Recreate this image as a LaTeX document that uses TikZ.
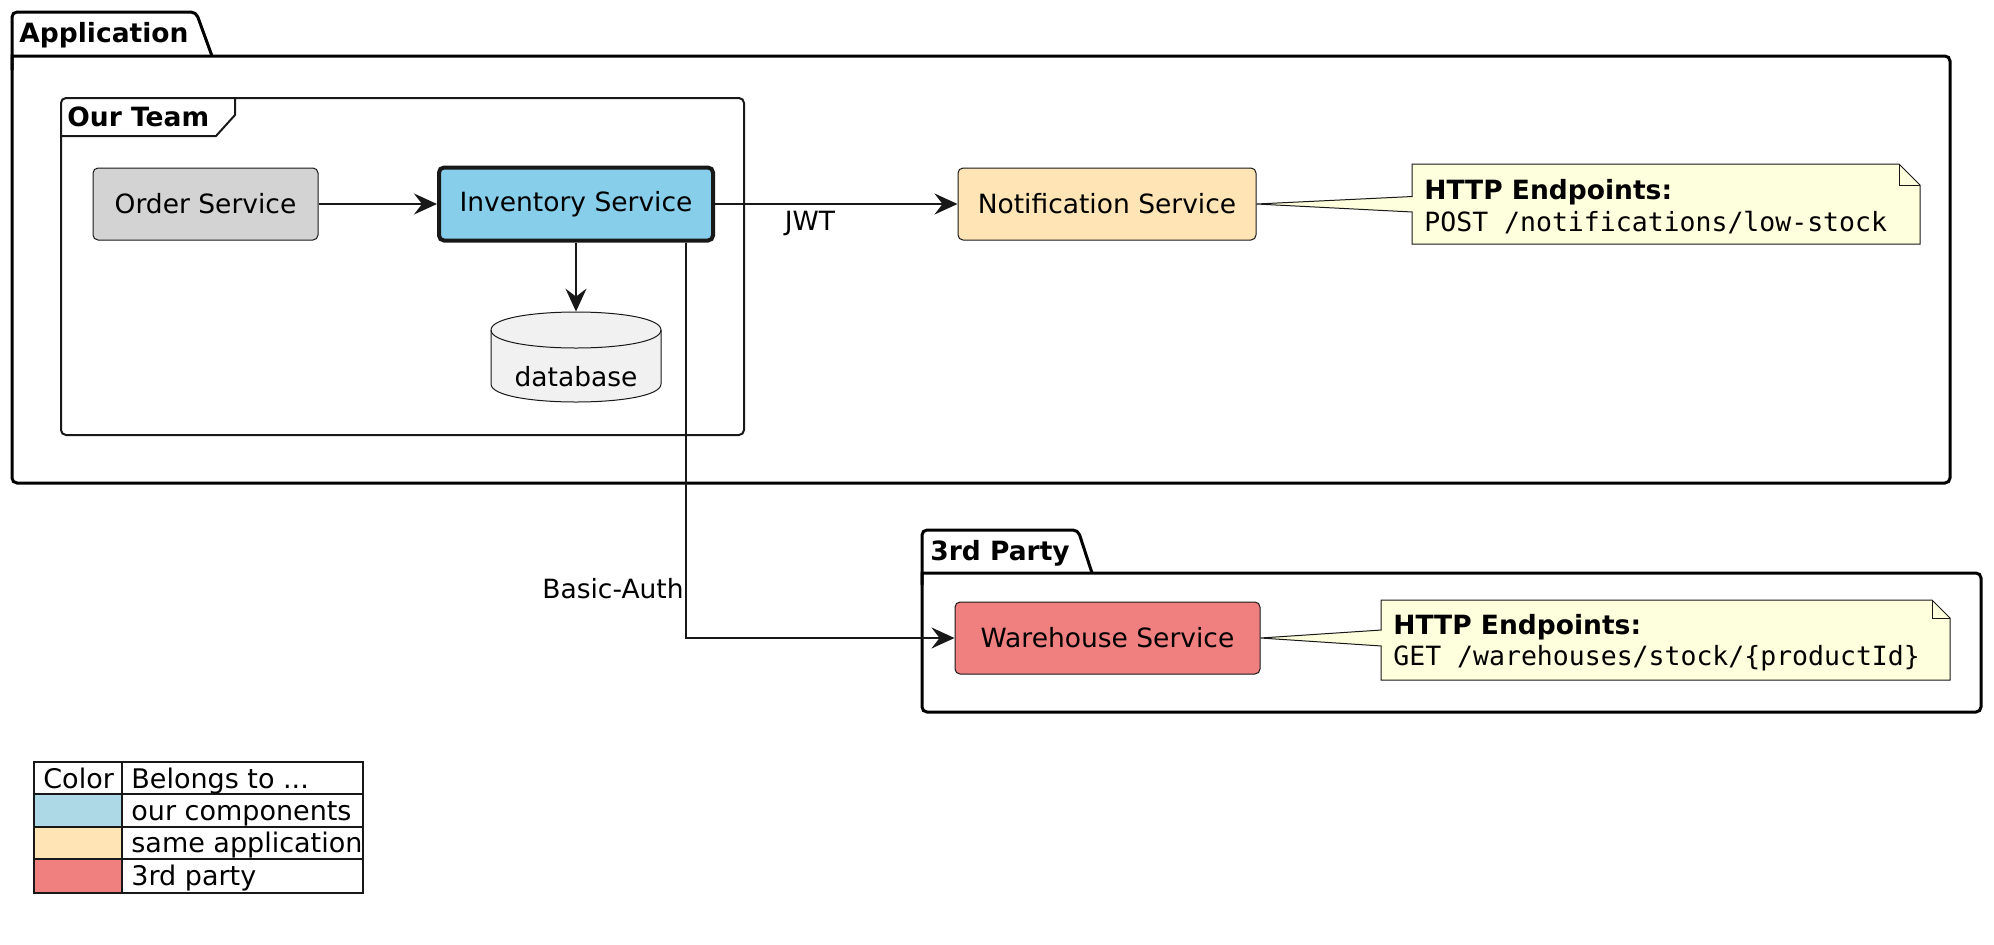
\documentclass[tikz,border=0pt]{standalone}
\usepackage{fontspec}
\setmainfont{DejaVu Sans}
\newfontfamily\monofnt{DejaVu Sans Mono}
\usetikzlibrary{arrows.meta}
\definecolor{linec}{HTML}{181818}
\definecolor{ordgray}{HTML}{D3D3D3}
\definecolor{invblue}{HTML}{87CEEB}
\definecolor{appcol}{HTML}{FFE4B5}
\definecolor{thirdcol}{HTML}{F08080}
\definecolor{legblue}{HTML}{ADD8E6}
\definecolor{notefill}{HTML}{FEFFDD}
\definecolor{dbfill}{HTML}{F1F1F1}
\newcommand\compfnt{\fontsize{13.25pt}{16pt}\selectfont}
\newcommand\legfnt{\fontsize{13.5pt}{16pt}\selectfont}
\begin{document}
\begin{tikzpicture}[x=0.5pt,y=-0.5pt,
  comp/.style={draw=linec, line width=0.5pt, rounded corners=2.5pt, inner sep=0pt, font=\compfnt, text=black},
  pkgline/.style={draw=black, line width=1.5pt},
  frameline/.style={draw=linec, line width=1pt},
  pkgtitle/.style={font=\compfnt\bfseries, inner sep=0pt},
  lbl/.style={font=\compfnt, inner sep=0pt},
  arr/.style={draw=linec, line width=1pt, -{Stealth[length=11.5pt,width=10.5pt,inset=4pt]}},
  noteline/.style={draw=linec, line width=0.5pt},
  notetxt/.style={inner sep=0pt, anchor=base west},
  legtxt/.style={font=\legfnt, inner sep=0pt, anchor=base west},
  legline/.style={draw=linec, line width=1pt}
]
\useasboundingbox (0,0) rectangle (1994,944);

% ---------- Application package ----------
\draw[pkgline, rounded corners=2.5pt, line cap=rect] (12,56) -- (1950,56) -- (1950,483) -- (12,483) -- (12,56);
\draw[pkgline, rounded corners=2.5pt] (12,70) -- (12,12) -- (196,12) -- (212,56);
\node[pkgtitle, anchor=base west] (tapp) at (19,42) {Application};

% ---------- Our Team frame ----------
\draw[frameline, rounded corners=2.5pt] (61,98) rectangle (744,435);
\draw[frameline] (61,136) -- (216,136) -- (235,115) -- (235,98);
\node[pkgtitle, anchor=base west] (tteam) at (67,126) {Our Team};

% ---------- 3rd Party package ----------
\draw[pkgline, rounded corners=2.5pt, line cap=rect] (922,573) -- (1981,573) -- (1981,712) -- (922,712) -- (922,573);
\draw[pkgline, rounded corners=2.5pt] (922,585) -- (922,530) -- (1078,530) -- (1092,573);
\node[pkgtitle, anchor=base west] (t3rd) at (930,560) {3rd Party};

% ---------- components ----------
\node[comp, fill=ordgray, minimum width=112.5pt, minimum height=36pt] (ord) at (205.5,204) {Order Service};
\node[comp, fill=invblue, line width=2pt, minimum width=137pt, minimum height=36.5pt] (inv) at (576,204) {Inventory Service};
\node[comp, fill=appcol, minimum width=149pt, minimum height=36pt] (notif) at (1107,204) {Notification Service};
\node[comp, fill=thirdcol, minimum width=152.5pt, minimum height=36pt] (wh) at (1107.5,638) {Warehouse Service};

% ---------- database ----------
\node[inner sep=0pt, minimum width=84.5pt, minimum height=45pt] (db) at (576,357) {};
\draw[fill=dbfill, draw=linec, line width=0.5pt]
  (491,330) -- (491,384) .. controls (491,408) and (661,408) .. (661,384)
  -- (661,330) .. controls (661,306) and (491,306) .. (491,330) -- cycle;
\draw[draw=linec, line width=0.5pt] (491,330) .. controls (491,354) and (661,354) .. (661,330);
\node[lbl, anchor=base] (dbt) at (576,386) {database};

% ---------- connectors ----------
\draw[arr] (ord.east) -- (inv.west);
\draw[arr] (inv.south) -- (db.north);
\draw[arr] (inv.east) -- (notif.west);
\node[lbl, anchor=base] (ljwt) at (810,230) {JWT};
\coordinate (bend) at (686,638);
\draw[arr] (inv.south -| bend) |- (wh.west);
\node[lbl, anchor=base east] (lba) at (684,598) {Basic-Auth};

% ---------- note 1 ----------
\filldraw[fill=notefill, noteline] (1412,164) -- (1899,164) -- (1920,185) -- (1920,244) -- (1412,244) -- cycle;
\draw[noteline] (1899,164) -- (1899,185) -- (1920,185);
\fill[notefill] (notif.east) -- (1413.5,196.5) -- (1413.5,212) -- cycle;
\draw[noteline] (1412.5,196.5) -- (notif.east) -- (1412.5,212);
\node[notetxt, font=\compfnt\bfseries] (n1a) at (1424,199) {HTTP Endpoints:};
\node[notetxt, font=\compfnt\monofnt] (n1b) at (1424,231) {POST /notifications/low-stock};

% ---------- note 2 ----------
\filldraw[fill=notefill, noteline] (1381,600) -- (1932,600) -- (1950,618) -- (1950,680) -- (1381,680) -- cycle;
\draw[noteline] (1932,600) -- (1932,618) -- (1950,618);
\fill[notefill] (wh.east) -- (1382.5,630) -- (1382.5,646) -- cycle;
\draw[noteline] (1381.5,630) -- (wh.east) -- (1381.5,646);
\node[notetxt, font=\compfnt\bfseries] (n2a) at (1393,634) {HTTP Endpoints:};
\node[notetxt, font=\compfnt\monofnt] (n2b) at (1393,665) {GET /warehouses/stock/\{productId\}};

% ---------- legend ----------
\fill[legblue] (34,794) rectangle (122,827);
\fill[appcol] (34,827) rectangle (122,859);
\fill[thirdcol] (34,859) rectangle (122,893);
\draw[legline] (34,762) rectangle (363,893);
\draw[legline] (122,762) -- (122,893);
\draw[legline] (34,794) -- (363,794);
\draw[legline] (34,827) -- (363,827);
\draw[legline] (34,859) -- (363,859);
\node[legtxt] (lg0) at (43,788) {Color};
\node[legtxt] (lg1) at (131,788) {Belongs to ...};
\node[legtxt] (lg2) at (131,820) {our components};
\node[legtxt] (lg3) at (131,852) {same application};
\node[legtxt] (lg4) at (131,885) {3rd party};
\end{tikzpicture}
\end{document}
